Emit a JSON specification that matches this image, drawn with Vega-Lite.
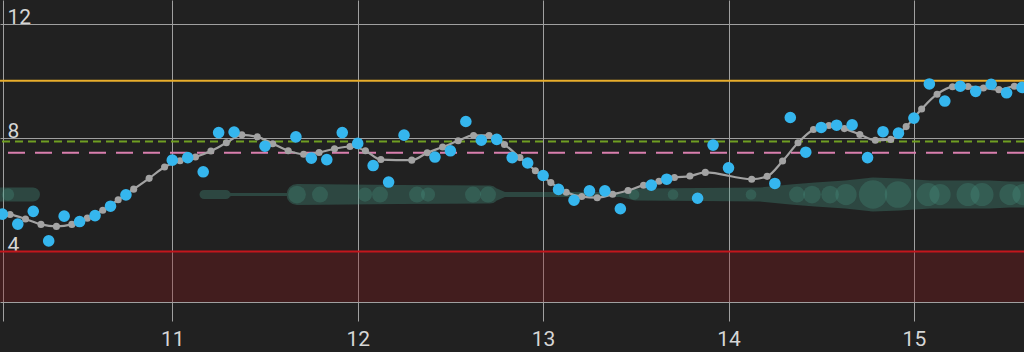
{
  "$schema": "https://vega.github.io/schema/vega-lite/v6.json",
  "width": 1024,
  "height": 302,
  "autosize": {"type": "none"},
  "padding": {"left": 0, "top": 0, "right": 0, "bottom": 50},
  "background": "#212121",
  "config": {"view": {"stroke": null}, "font": "Roboto"},
  "datasets": {
    "pred": [
      {"t":10.0417,"v":5.38},{"t":10.125,"v":5.30},{"t":10.2083,"v":5.14},{"t":10.2917,"v":4.95},{"t":10.375,"v":4.88},{"t":10.4583,"v":4.95},{"t":10.5417,"v":5.17},{"t":10.625,"v":5.45},{"t":10.7083,"v":5.82},{"t":10.7917,"v":6.19},{"t":10.875,"v":6.57},{"t":10.9583,"v":6.97},
      {"t":11.0417,"v":7.19},{"t":11.125,"v":7.32},{"t":11.2083,"v":7.53},{"t":11.2917,"v":7.82},{"t":11.375,"v":8.10},{"t":11.4583,"v":8.03},{"t":11.5417,"v":7.79},{"t":11.625,"v":7.54},{"t":11.7083,"v":7.42},{"t":11.7917,"v":7.48},{"t":11.875,"v":7.61},{"t":11.9583,"v":7.69},
      {"t":12.0417,"v":7.54},{"t":12.125,"v":7.23},{"t":12.2917,"v":7.21},{"t":12.375,"v":7.47},{"t":12.4583,"v":7.67},{"t":12.5417,"v":7.89},{"t":12.625,"v":8.08},{"t":12.7083,"v":8.08},{"t":12.7917,"v":7.76},{"t":12.875,"v":7.30},{"t":12.9583,"v":6.84},
      {"t":13.0417,"v":6.42},{"t":13.125,"v":6.08},{"t":13.2083,"v":5.93},{"t":13.2917,"v":5.89},{"t":13.375,"v":6.01},{"t":13.4583,"v":6.14},{"t":13.5417,"v":6.33},{"t":13.625,"v":6.47},{"t":13.7083,"v":6.60},{"t":13.7917,"v":6.65},{"t":13.875,"v":6.78},
      {"t":14.125,"v":6.54},{"t":14.2083,"v":6.64},{"t":14.2917,"v":7.18},{"t":14.375,"v":7.82},{"t":14.4583,"v":8.29},{"t":14.5417,"v":8.43},{"t":14.625,"v":8.32},{"t":14.7083,"v":8.11},{"t":14.7917,"v":7.91},{"t":14.875,"v":7.94},{"t":14.9583,"v":8.39},
      {"t":15.0417,"v":9.01},{"t":15.125,"v":9.53},{"t":15.2083,"v":9.79},{"t":15.2917,"v":9.80},{"t":15.375,"v":9.75},{"t":15.4583,"v":9.69},{"t":15.5417,"v":9.81},{"t":15.625,"v":9.81}
    ],
    "bg": [
      {"t":10.0833,"v":5.31},{"t":10.1667,"v":4.96},{"t":10.25,"v":5.41},{"t":10.3333,"v":4.37},{"t":10.4167,"v":5.24},{"t":10.5,"v":5.05},{"t":10.5833,"v":5.26},{"t":10.6667,"v":5.59},{"t":10.75,"v":5.99},
      {"t":11.0,"v":7.21},{"t":11.0833,"v":7.30},{"t":11.1667,"v":6.80},{"t":11.25,"v":8.18},{"t":11.3333,"v":8.20},{"t":11.5,"v":7.70},{"t":11.6667,"v":8.03},{"t":11.75,"v":7.28},{"t":11.8333,"v":7.23},{"t":11.9167,"v":8.18},
      {"t":12.0,"v":7.80},{"t":12.0833,"v":7.02},{"t":12.1667,"v":6.44},{"t":12.25,"v":8.09},{"t":12.4167,"v":7.32},{"t":12.5,"v":7.54},{"t":12.5833,"v":8.57},{"t":12.6667,"v":7.91},{"t":12.75,"v":7.94},{"t":12.8333,"v":7.30},{"t":12.9167,"v":7.11},
      {"t":13.0,"v":6.67},{"t":13.0833,"v":6.18},{"t":13.1667,"v":5.80},{"t":13.25,"v":6.13},{"t":13.3333,"v":6.13},{"t":13.4167,"v":5.50},{"t":13.5833,"v":6.33},{"t":13.6667,"v":6.54},{"t":13.8333,"v":5.87},{"t":13.9167,"v":7.74},
      {"t":14.0,"v":6.94},{"t":14.25,"v":6.39},{"t":14.3333,"v":8.71},{"t":14.4167,"v":7.49},{"t":14.5,"v":8.36},{"t":14.5833,"v":8.44},{"t":14.6667,"v":8.45},{"t":14.75,"v":7.30},{"t":14.8333,"v":8.21},{"t":14.9167,"v":8.16},
      {"t":15.0,"v":8.69},{"t":15.0833,"v":9.89},{"t":15.1667,"v":9.29},{"t":15.25,"v":9.81},{"t":15.3333,"v":9.63},{"t":15.4167,"v":9.88},{"t":15.5,"v":9.58},{"t":15.5833,"v":9.77}
    ],
    "band": [
      {"seg":"a","t":10.0437,"v":6.0,"w":14},{"seg":"a","t":10.2487,"v":6.0,"w":14},
      {"seg":"b","t":11.1710,"v":6.0,"w":9},{"seg":"b","t":11.2897,"v":6.0,"w":9},{"seg":"b","t":11.3167,"v":6.0,"w":3},{"seg":"b","t":11.6350,"v":6.0,"w":3},
      {"seg":"b","t":11.6727,"v":6.0,"w":21},{"seg":"b","t":12.2282,"v":6.0,"w":19},{"seg":"b","t":12.7136,"v":6.0,"w":18},{"seg":"b","t":12.7946,"v":6.0,"w":5},
      {"seg":"b","t":13.4149,"v":6.0,"w":5},{"seg":"b","t":13.4958,"v":6.0,"w":12},{"seg":"b","t":13.8463,"v":6.0,"w":13},{"seg":"b","t":14.1700,"v":6.0,"w":14},
      {"seg":"b","t":14.3318,"v":6.0,"w":20},{"seg":"b","t":14.4666,"v":6.0,"w":24},{"seg":"b","t":14.6284,"v":6.0,"w":28},{"seg":"b","t":14.7795,"v":6.0,"w":34},
      {"seg":"b","t":14.9251,"v":6.0,"w":32},{"seg":"b","t":15.0869,"v":6.0,"w":28},{"seg":"b","t":15.2487,"v":6.0,"w":28},{"seg":"b","t":15.4105,"v":6.0,"w":28},
      {"seg":"b","t":15.5184,"v":6.0,"w":26},{"seg":"b","t":15.6532,"v":6.0,"w":26}
    ],
    "spots": [
      {"t":10.1138,"v":6.0,"r":7},{"t":11.6727,"v":6.0,"r":10},{"t":11.7967,"v":6.0,"r":9},{"t":12.0394,"v":6.0,"r":8},{"t":12.1203,"v":6.0,"r":9},
      {"t":12.3199,"v":6.0,"r":9},{"t":12.3792,"v":6.0,"r":8},{"t":12.6219,"v":6.0,"r":9},{"t":12.7028,"v":6.0,"r":9},{"t":13.4904,"v":6.0,"r":6},
      {"t":13.7007,"v":6.0,"r":6},{"t":14.1214,"v":6.0,"r":6},{"t":14.3695,"v":6.0,"r":9},{"t":14.4504,"v":6.0,"r":10},{"t":14.5478,"v":6.0,"r":10},
      {"t":14.6337,"v":6.0,"r":12},{"t":14.7795,"v":6.0,"r":16},{"t":14.9143,"v":6.0,"r":15},{"t":15.0761,"v":6.0,"r":13},{"t":15.1408,"v":6.0,"r":12},
      {"t":15.2919,"v":6.0,"r":13},{"t":15.3674,"v":6.0,"r":13},{"t":15.5184,"v":6.0,"r":12},{"t":15.5885,"v":6.0,"r":12}
    ]
  },
  "layer": [
    {
      "data": {"values": [{"v": 4, "v2": 2.22}]},
      "mark": {"type": "rect", "color": "#8f1417", "opacity": 0.3},
      "encoding": {
        "y": {"field": "v", "type": "quantitative",
          "scale": {"domain": [2.22, 12.844], "nice": false, "zero": false},
          "axis": {"values": [4, 8, 12], "grid": true, "gridColor": "#a0a0a0", "gridWidth": 1, "domain": false, "ticks": false, "tickSize": 0,
            "labelAlign": "left", "labelBaseline": "alphabetic", "labelPadding": -7, "labelFontSize": 21, "labelColor": "#d6d6d6",
            "labelFont": "Roboto", "labelOverlap": false, "labelFlush": false, "title": null}},
        "y2": {"field": "v2"}
      }
    },
    {
      "data": {"values": [{"v": 4}]},
      "mark": {"type": "rule", "color": "#c4161c", "strokeWidth": 2},
      "encoding": {"y": {"field": "v", "type": "quantitative", "scale": {"domain": [2.22, 12.844], "nice": false, "zero": false}}}
    },
    {
      "data": {"values": [{"v": 10}]},
      "mark": {"type": "rule", "color": "#e8ae2c", "strokeWidth": 2},
      "encoding": {"y": {"field": "v", "type": "quantitative", "scale": {"domain": [2.22, 12.844], "nice": false, "zero": false}}}
    },
    {
      "data": {"values": [{"v": 7.87}]},
      "mark": {"type": "rule", "color": "#6f9e22", "strokeWidth": 2, "strokeDash": [8, 5]},
      "encoding": {"y": {"field": "v", "type": "quantitative", "scale": {"domain": [2.22, 12.844], "nice": false, "zero": false}}}
    },
    {
      "data": {"values": [{"v": 7.47}]},
      "mark": {"type": "rule", "color": "#d97fae", "strokeWidth": 2, "strokeDash": [17, 10]},
      "encoding": {"y": {"field": "v", "type": "quantitative", "scale": {"domain": [2.22, 12.844], "nice": false, "zero": false}}}
    },
    {
      "data": {"name": "band"},
      "mark": {"type": "trail", "color": "#4aa08a", "opacity": 0.3, "clip": true},
      "encoding": {
        "x": {"field": "t", "type": "quantitative", "scale": {"domain": [10.0707, 15.5938], "nice": false, "zero": false}},
        "y": {"field": "v", "type": "quantitative", "scale": {"domain": [2.22, 12.844], "nice": false, "zero": false}},
        "size": {"field": "w", "type": "quantitative", "scale": {"domain": [0, 34], "range": [0, 34]}, "legend": null},
        "detail": {"field": "seg"},
        "order": {"field": "t"}
      }
    },
    {
      "data": {"name": "spots"},
      "mark": {"type": "circle", "color": "#4aa08a", "opacity": 0.25, "clip": true},
      "encoding": {
        "x": {"field": "t", "type": "quantitative", "scale": {"domain": [10.0707, 15.5938], "nice": false, "zero": false}},
        "y": {"field": "v", "type": "quantitative", "scale": {"domain": [2.22, 12.844], "nice": false, "zero": false}},
        "size": {"field": "r", "type": "quantitative", "scale": {"type": "pow", "exponent": 2, "domain": [0, 20], "range": [0, 1257]}, "legend": null}
      }
    },
    {
      "data": {"name": "pred"},
      "mark": {"type": "line", "color": "#a3a3a3", "strokeWidth": 2.2, "interpolate": "monotone", "clip": true,
        "point": {"filled": true, "size": 50, "color": "#a3a3a3"}},
      "encoding": {
        "x": {"field": "t", "type": "quantitative",
          "scale": {"domain": [10.0707, 15.5938], "nice": false, "zero": false},
          "axis": {"values": [10.087, 11, 12, 13, 14, 15], "grid": true, "gridColor": "#a0a0a0", "gridWidth": 1,
            "domain": true, "domainColor": "#a0a0a0", "domainWidth": 1, "ticks": true, "tickSize": 19, "tickColor": "#a0a0a0", "tickWidth": 1,
            "labelExpr": "datum.value < 10.5 ? '' : format(datum.value, 'd')", "labelFontSize": 21, "labelColor": "#d6d6d6",
            "labelFont": "Roboto", "labelPadding": 7, "labelFlush": false, "labelOverlap": false, "title": null}},
        "y": {"field": "v", "type": "quantitative", "scale": {"domain": [2.22, 12.844], "nice": false, "zero": false}}
      }
    },
    {
      "data": {"name": "bg"},
      "mark": {"type": "circle", "color": "#35b6ee", "opacity": 1, "size": 135, "clip": true},
      "encoding": {
        "x": {"field": "t", "type": "quantitative", "scale": {"domain": [10.0707, 15.5938], "nice": false, "zero": false}},
        "y": {"field": "v", "type": "quantitative", "scale": {"domain": [2.22, 12.844], "nice": false, "zero": false}}
      }
    }
  ],
  "resolve": {"scale": {"size": "independent"}}
}
